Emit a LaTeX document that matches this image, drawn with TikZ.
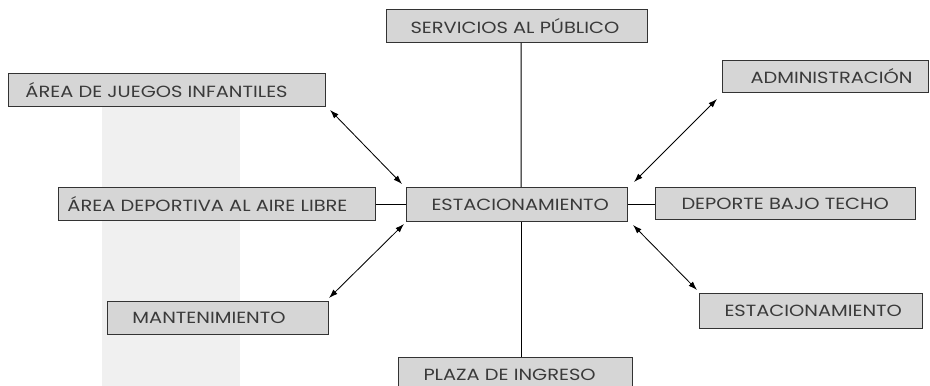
\documentclass[tikz,border=0pt]{standalone}
\usepackage{fontspec}
\setmainfont{Poppins}[FakeStretch=1.2]
\usetikzlibrary{arrows.meta}
\definecolor{gris}{HTML}{D6D6D6}
\definecolor{franja}{HTML}{F0F0F0}
\definecolor{tinta}{HTML}{3A3A3A}
\newcommand{\rotulo}[2]{\makebox[#1][l]{#2}}
\tikzset{
  caja/.style={draw=black!80, fill=gris, anchor=north west, inner ysep=0pt,
    text=tinta, font=\fontsize{11.5}{13}\selectfont, line width=0.7pt},
  flecha/.style={{Latex[length=2.2mm,width=1.5mm]}-{Latex[length=2.2mm,width=1.5mm]}, line width=0.6pt},
  linea/.style={line width=0.7pt}
}
\begin{document}
\begin{tikzpicture}[x=0.025cm,y=-0.025cm]
        \useasboundingbox (0,0) rectangle (930,386);
        % franja de fondo
        \fill[franja] (102,106) rectangle (240,386);
        % cajas
        \node[caja, minimum height=0.825cm, inner xsep=0.6cm] (serv) at (386,9) {\rotulo{5.325cm}{SERVICIOS AL PÚBLICO}};
        \node[caja, minimum height=0.825cm, inner xsep=0.425cm] (juegos) at (8,73) {\rotulo{7.075cm}{ÁREA DE JUEGOS INFANTILES}};
        \node[caja, minimum height=0.8cm, inner xsep=0.7cm] (admin) at (722,60) {\rotulo{3.75cm}{ADMINISTRACIÓN}};
        \node[caja, minimum height=0.825cm, inner xsep=0.225cm] (aire) at (58,187) {\rotulo{7.475cm}{ÁREA DEPORTIVA AL AIRE LIBRE}};
        \node[caja, minimum height=0.85cm, inner xsep=0.625cm] (est) at (406,187) {\rotulo{4.275cm}{ESTACIONAMIENTO}};
        \node[caja, minimum height=0.8cm, inner xsep=0.65cm] (techo) at (655,187) {\rotulo{5.2cm}{DEPORTE BAJO TECHO}};
        \node[caja, minimum height=0.875cm, inner xsep=0.625cm] (est2) at (699,293) {\rotulo{4.325cm}{ESTACIONAMIENTO}};
        \node[caja, minimum height=0.825cm, inner xsep=0.625cm] (mant) at (107,301) {\rotulo{4.275cm}{MANTENIMIENTO}};
        \node[caja, minimum height=0.875cm, inner xsep=0.625cm] (plaza) at (398,357) {\rotulo{4.6cm}{PLAZA DE INGRESO}};
        % lineas rectas
        \draw[linea] ([shift={(4,0)}]serv.south) -- ([shift={(4,0)}]est.north);
        \draw[linea] ([shift={(4,0)}]est.south) -- ([shift={(4,0)}]est.south |- plaza.north);
        \draw[linea] (aire.east) -- (aire.east -| est.west);
        \draw[linea] (est.east) -- (est.east -| techo.west);
        % flechas dobles
        \draw[flecha] ([shift={(4,3)}]juegos.south east) -- ([shift={(-4,-3)}]est.north west);
        \draw[flecha] ([shift={(-5,6)}]admin.south west) -- ([shift={(6,-5)}]est.north east);
        \draw[flecha] ([shift={(5,3)}]est.south east) -- ([shift={(-2,-3)}]est2.north west);
        \draw[flecha] ([shift={(-2,2)}]est.south west) -- ([shift={(0,-3)}]mant.north east);
    \end{tikzpicture}
\end{document}
